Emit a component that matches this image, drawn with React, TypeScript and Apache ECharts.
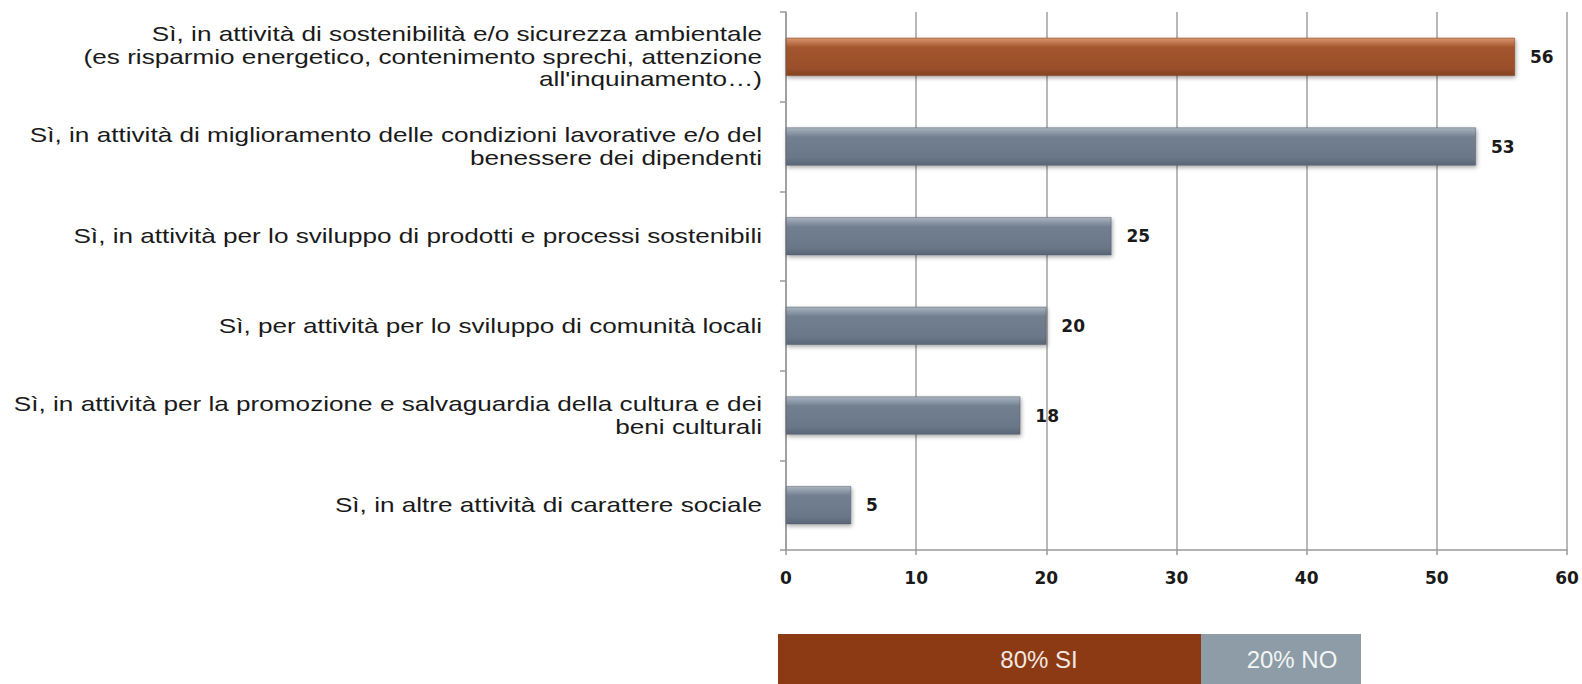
import React, { useEffect, useRef } from "react";
import * as echarts from "echarts";

const categories: string[] = [
  "Sì, in attività di sostenibilità e/o sicurezza ambientale\n(es risparmio energetico, contenimento sprechi, attenzione\nall'inquinamento…)",
  "Sì, in attività di miglioramento delle condizioni lavorative e/o del\nbenessere dei dipendenti",
  "Sì, in attività per lo sviluppo di prodotti e processi sostenibili",
  "Sì, per attività per lo sviluppo di comunità locali",
  "Sì, in attività per la promozione e salvaguardia della cultura e dei\nbeni culturali",
  "Sì, in altre attività di carattere sociale",
];
const values: number[] = [56, 53, 25, 20, 18, 5];
const highlighted: boolean[] = [true, false, false, false, false, false];
const summaryLabels: string[] = ["80% SI", "20% NO"];

const orangeGrad = () =>
  new echarts.graphic.LinearGradient(0, 0, 0, 1, [
    { offset: 0, color: "#d99670" },
    { offset: 0.25, color: "#a3552d" },
    { offset: 0.8, color: "#9a4f2b" },
    { offset: 1, color: "#84421f" },
  ]);
const grayGrad = () =>
  new echarts.graphic.LinearGradient(0, 0, 0, 1, [
    { offset: 0, color: "#a9b4c0" },
    { offset: 0.25, color: "#727f8f" },
    { offset: 0.8, color: "#6a7788" },
    { offset: 1, color: "#5a6575" },
  ]);

const numFont = {
  color: "#1a1a1a",
  fontSize: 17,
  fontWeight: "bold",
  fontFamily: "DejaVu Sans",
};

export default function App() {
  const ref = useRef<HTMLDivElement>(null);
  useEffect(() => {
    if (!ref.current) return;
    const chart = echarts.init(ref.current, undefined, { renderer: "svg" });
    const summaryGraphics = [
      {
        type: "rect",
        shape: { x: 778, y: 634, width: 423, height: 50 },
        style: { fill: "#8b3a13" },
      },
      {
        type: "rect",
        shape: { x: 1201, y: 634, width: 160, height: 50 },
        style: { fill: "#8d9ca6" },
      },
      {
        type: "text",
        x: 1039,
        y: 659,
        style: {
          text: summaryLabels[0],
          fill: "#f3e8e2",
          fontSize: 24,
          fontFamily: "Liberation Sans",
          align: "center",
          verticalAlign: "middle",
        },
      },
      {
        type: "text",
        x: 1292,
        y: 659,
        style: {
          text: summaryLabels[1],
          fill: "#f3f5f6",
          fontSize: 24,
          fontFamily: "Liberation Sans",
          align: "center",
          verticalAlign: "middle",
        },
      },
    ];
    chart.setOption({
      animation: false,
      backgroundColor: "#ffffff",
      grid: { left: 786, right: 15, top: 12, bottom: 134, containLabel: false },
      xAxis: {
        type: "value",
        min: 0,
        max: 60,
        interval: 10,
        axisLine: { show: true, lineStyle: { color: "#9a9a9a", width: 1.5 } },
        axisTick: { show: true, length: 5, lineStyle: { color: "#9a9a9a", width: 1.5 } },
        splitLine: { show: true, lineStyle: { color: "#a0a0a0", width: 1.5 } },
        axisLabel: { margin: 19, ...numFont },
      },
      yAxis: {
        type: "category",
        inverse: true,
        data: categories,
        axisLine: { show: true, lineStyle: { color: "#9a9a9a", width: 1.5 } },
        axisTick: { show: true, length: 6, lineStyle: { color: "#9a9a9a", width: 1.5 } },
        axisLabel: { show: false },
      },
      series: [
        {
          type: "bar",
          barWidth: 38,
          data: values.map((v, i) => ({
            value: v,
            itemStyle: {
              color: highlighted[i] ? orangeGrad() : grayGrad(),
              borderColor: highlighted[i] ? "#7a3a1a" : "#505b68",
              borderWidth: 0.5,
              shadowBlur: 4,
              shadowOffsetY: 2,
              shadowOffsetX: 1,
              shadowColor: "rgba(0,0,0,0.35)",
            },
          })),
          label: {
            show: true,
            position: "right",
            distance: 15,
            ...numFont,
          },
        },
      ],
      graphic: summaryGraphics,
    });
    const labelGraphics = categories.map((c, i) => {
      const y = chart.convertToPixel({ yAxisIndex: 0 }, i) as number;
      return {
        type: "text",
        x: 762,
        y: y,
        scaleX: 1.245,
        style: {
          text: c,
          fill: "#1a1a1a",
          fontSize: 21,
          lineHeight: 22.5,
          fontFamily: "Liberation Sans",
          align: "right",
          verticalAlign: "middle",
        },
      };
    });
    chart.setOption({ graphic: [...summaryGraphics, ...labelGraphics] }, { replaceMerge: ["graphic"] });
    return () => chart.dispose();
  }, []);
  return (
    <div
      ref={ref}
      style={{ position: "fixed", left: 0, top: 0, width: 1582, height: 684 }}
    />
  );
}
